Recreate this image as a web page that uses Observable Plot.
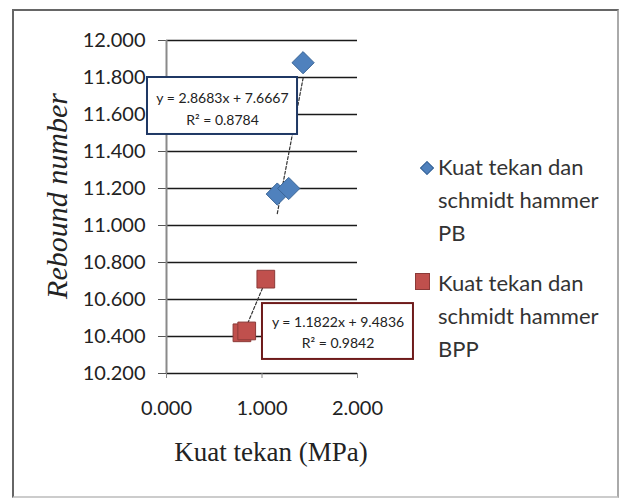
<!DOCTYPE html>
<html><head><meta charset="utf-8">
<script src="https://cdn.jsdelivr.net/npm/d3@7"></script>
<script src="https://cdn.jsdelivr.net/npm/@observablehq/plot@0.6"></script>
<style>
body{margin:0;background:#fff;}
#wrap{position:relative;width:620px;height:499px;overflow:hidden;}
#frame{position:absolute;left:12px;top:9px;width:607px;height:489px;border:2px solid #666;border-right-color:#aaa;border-bottom-color:#ccc;box-sizing:border-box;pointer-events:none;}
.leg{position:absolute;left:438px;font-family:Lato,sans-serif;font-size:22px;line-height:33px;color:#333;}
.mk{position:absolute;}
</style></head>
<body><div id="wrap"><div id="chart"></div><div id="frame"></div>
<div class="mk" style="left:422px;top:163px;width:8px;height:8px;background:#4F81BD;border:1px solid #3A6596;transform:rotate(45deg);"></div>
<div class="leg" style="top:150px;">Kuat tekan dan<br>schmidt hammer<br>PB</div>
<div class="mk" style="left:415px;top:273px;width:13px;height:15px;background:#C0504D;border:1px solid #8B3A38;"></div>
<div class="leg" style="top:266px;">Kuat tekan dan<br>schmidt hammer<br>BPP</div>
</div>
<script>
// Data
const pbX = [1.16, 1.28, 1.43];
const pbY = [11.17, 11.20, 11.88];
const bppX = [0.79, 0.84, 1.04];
const bppY = [10.42, 10.43, 10.71];
const yTicks = [10.2, 10.4, 10.6, 10.8, 11.0, 11.2, 11.4, 11.6, 11.8, 12.0];
const xTicks = [0, 1, 2];
const eqPB = ["y = 2.8683x + 7.6667", "R² = 0.8784"];
const eqBPP = ["y = 1.1822x + 9.4836", "R² = 0.9842"];

const pb = pbX.map((x, i) => ({x, y: pbY[i]}));
const bpp = bppX.map((x, i) => ({x, y: bppY[i]}));
const fmt = d3.format(".3f");
const tickFont = "Lato, sans-serif";
const eqFont = "'Liberation Sans Narrow', 'Arial Narrow', Lato, sans-serif";
const serif = "'Liberation Serif', 'Times New Roman', serif";

const chart = Plot.plot({
  width: 620,
  height: 499,
  marginLeft: 166,
  marginRight: 263,
  marginTop: 40,
  marginBottom: 126,
  style: {background: "transparent", overflow: "visible"},
  x: {domain: [0, 2]},
  y: {domain: [10.2, 12]},
  marks: [
    Plot.ruleY(yTicks, {stroke: "#1a1a1a", strokeWidth: 1.3}),
    Plot.axisY({ticks: yTicks, tickFormat: fmt, tickSize: 8, tickPadding: 13, fontSize: 20, fontFamily: tickFont, color: "#222", stroke: "#555", label: null}),
    Plot.axisX({ticks: xTicks, tickFormat: fmt, tickSize: 5, tickPadding: 22, fontSize: 20, fontFamily: tickFont, color: "#222", stroke: "#888", label: null}),
    Plot.ruleX([0], {stroke: "#8a8a8a", strokeWidth: 2}),
    Plot.linearRegressionY(pb, {x: "x", y: "y", ci: 0, stroke: "#333", strokeWidth: 1.2, strokeDasharray: "3,2"}),
    Plot.linearRegressionY(bpp, {x: "x", y: "y", ci: 0, stroke: "#333", strokeWidth: 1.2, strokeDasharray: "3,2"}),
    // trendline label boxes
    Plot.rect([eqPB], {x1: -0.199, x2: 1.372, y1: 11.492, y2: 11.80, fill: "white", stroke: "#1F3864", strokeWidth: 2}),
    Plot.text(eqPB, {x: 0.586, y: (d, i) => i === 0 ? 11.686 : 11.568, text: d => d, fontSize: 14, fontFamily: eqFont, fill: "#222"}),
    Plot.rect([eqBPP], {x1: 1.005, x2: 2.586, y1: 10.276, y2: 10.578, fill: "white", stroke: "#6E1A1A", strokeWidth: 2}),
    Plot.text(eqBPP, {x: 1.796, y: (d, i) => i === 0 ? 10.476 : 10.362, text: d => d, fontSize: 14, fontFamily: eqFont, fill: "#222"}),
    Plot.dot(pb, {x: "x", y: "y", symbol: "diamond2", r: 10, fill: "#4F81BD", stroke: "#3A6596", strokeWidth: 1}),
    Plot.dot(bpp, {x: "x", y: "y", symbol: "square", r: 10, fill: "#C0504D", stroke: "#8B3A38", strokeWidth: 1}),
    Plot.text(["Kuat tekan (MPa)"], {frameAnchor: "bottom", textAnchor: "middle", dx: 9, dy: 79, lineAnchor: "middle", text: d => d, fontSize: 27, fontFamily: serif, fill: "#222"}),
    Plot.text(["Rebound number"], {frameAnchor: "left", textAnchor: "middle", dx: -109, dy: -11, rotate: -90, lineAnchor: "middle", text: d => d, fontSize: 30, fontStyle: "italic", fontFamily: serif, fill: "#222"})
  ]
});
document.getElementById("chart").appendChild(chart);
</script>
</body></html>
